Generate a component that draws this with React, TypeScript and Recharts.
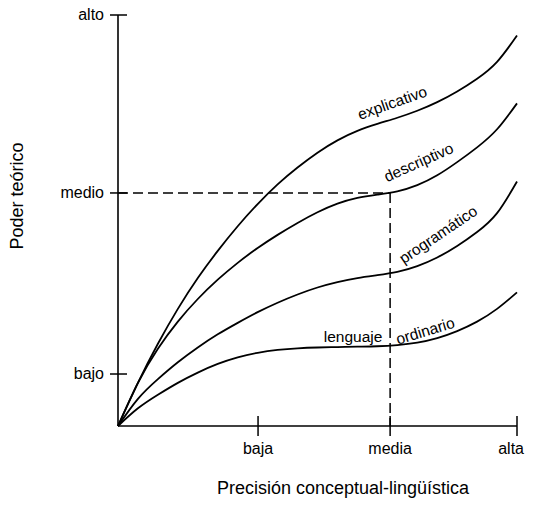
import React from 'react';
import { LineChart, Line, XAxis, YAxis, ReferenceLine, ReferenceDot, Label } from 'recharts';

// Posición en el eje de precisión (0 = origen, 100 = "alta")
const X_VALUES = [0, 5, 10, 15, 20, 25, 30, 35, 40, 45, 50, 55, 60, 65, 70, 75, 80, 85, 90, 95, 100];

// Poder teórico (0 = origen, 100 = "alto")
const EXPLICATIVO = [0, 10.5, 20, 28.5, 36, 42.6, 48.6, 54, 58.8, 62.9, 66.5, 69.5, 71.8, 73.5, 75, 76.7, 78.8, 81.4, 84.5, 88.6, 95];
const DESCRIPTIVO = [0, 10.5, 18.8, 25.4, 30.9, 35.6, 39.7, 43.3, 46.5, 49.4, 52, 54.1, 55.5, 56.3, 57.1, 58.6, 61, 64.2, 67.8, 72.2, 78.5];
const PROGRAMATICO = [0, 6.6, 11.4, 15.5, 19.1, 22.3, 25.1, 27.7, 30, 32, 33.7, 35, 36, 36.7, 37.5, 38.9, 41, 43.8, 47.2, 51.8, 59.5];
const LENGUAJE_ORDINARIO = [0, 4.3, 7.6, 10.5, 13, 15.1, 16.7, 17.8, 18.5, 18.9, 19.1, 19.2, 19.3, 19.4, 19.7, 20.3, 21.4, 23.1, 25.4, 28.5, 32.5];

const X_TICKS = [35.1, 68.2, 100];
const X_TICK_LABELS = ['baja', 'media', 'alta'];
const Y_TICKS = [12.65, 56.7, 100];
const Y_TICK_LABELS = ['bajo', 'medio', 'alto'];

const MEDIA = X_TICKS[1];
const MEDIO = Y_TICKS[1];

const CURVE_LABEL_TEXTS = ['explicativo', 'descriptivo', 'programático', 'lenguaje', 'ordinario'];
const CURVE_LABEL_X = [69.2, 75.9, 81, 58.9, 77.4];
const CURVE_LABEL_Y = [77.4, 63, 45.5, 20.4, 21.9];
const CURVE_LABEL_ANGLE = [-19.5, -24, -34, 0, -17];

const data = X_VALUES.map((x, i) => ({
  x,
  explicativo: EXPLICATIVO[i],
  descriptivo: DESCRIPTIVO[i],
  programatico: PROGRAMATICO[i],
  ordinario: LENGUAJE_ORDINARIO[i],
}));

const FONT = '"Liberation Sans", Arial, Helvetica, sans-serif';

const YTick = (props: any) => {
  const { x, y, payload } = props;
  const i = Y_TICKS.indexOf(payload.value);
  return (
    <g>
      <line x1={x - 8} x2={x + 9} y1={y} y2={y} stroke="#000" strokeWidth={1.5} />
      <text x={x - 14} y={y + 5} textAnchor="end" fontSize={16} fontFamily={FONT} fill="#000">
        {Y_TICK_LABELS[i]}
      </text>
    </g>
  );
};

const XTick = (props: any) => {
  const { x, y, payload } = props;
  const i = X_TICKS.indexOf(payload.value);
  // the last label sits against the right edge, so end-anchor it
  const last = i === X_TICKS.length - 1;
  return (
    <g>
      <line x1={x} x2={x} y1={y - 10} y2={y + 10} stroke="#000" strokeWidth={1.5} />
      <text
        x={last ? x + 7 : x}
        y={y + 28}
        textAnchor={last ? 'end' : 'middle'}
        fontSize={16}
        fontFamily={FONT}
        fill="#000"
      >
        {X_TICK_LABELS[i]}
      </text>
    </g>
  );
};

const curveLabel = (i: number) => (props: any) => {
  const { cx, cy } = props;
  return (
    <text
      x={cx}
      y={cy}
      textAnchor="middle"
      fontSize={15.5}
      fontFamily={FONT}
      fill="#000"
      transform={`rotate(${CURVE_LABEL_ANGLE[i]} ${cx} ${cy})`}
    >
      {CURVE_LABEL_TEXTS[i]}
    </text>
  );
};

export default function App() {
  return (
    <div style={{ width: 525, height: 496 }}>
      <style>{'html, body { overflow: hidden; } svg { display: block; overflow: visible; }'}</style>
      <LineChart
        width={525}
        height={496}
        data={data}
        margin={{ top: 7, right: 16, left: 0, bottom: 0 }}
      >
        <XAxis
          dataKey="x"
          type="number"
          domain={[0, 100]}
          ticks={X_TICKS}
          tick={<XTick />}
          tickLine={false}
          tickSize={0}
          tickMargin={0}
          height={78}
          axisLine={{ stroke: '#000', strokeWidth: 1.6 }}
          interval={0}
        >
          <Label
            content={(p: any) => {
              const vb = p.viewBox;
              return (
                <text
                  x={vb.x + vb.width / 2 + 25.5}
                  y={vb.y + 68}
                  textAnchor="middle"
                  fontSize={18}
                  fontFamily={FONT}
                  fill="#000"
                >
                  Precisión conceptual-lingüística
                </text>
              );
            }}
          />
        </XAxis>
        <YAxis
          type="number"
          domain={[0, 100]}
          ticks={Y_TICKS}
          tick={<YTick />}
          tickLine={false}
          tickSize={0}
          tickMargin={0}
          width={110}
          axisLine={{ stroke: '#000', strokeWidth: 1.6 }}
          interval={0}
        >
          <Label
            content={(p: any) => {
              const vb = p.viewBox;
              const cx = vb.x + 15;
              const cy = vb.y + 181;
              return (
                <text
                  x={cx}
                  y={cy}
                  textAnchor="middle"
                  fontSize={18}
                  fontFamily={FONT}
                  fill="#000"
                  transform={`rotate(-90 ${cx} ${cy})`}
                >
                  Poder teórico
                </text>
              );
            }}
          />
        </YAxis>
        <ReferenceLine
          segment={[{ x: 0, y: MEDIO }, { x: MEDIA, y: MEDIO }]}
          stroke="#000"
          strokeWidth={1.5}
          strokeDasharray="10 5"
        />
        <ReferenceLine
          segment={[{ x: MEDIA, y: MEDIO }, { x: MEDIA, y: 0 }]}
          stroke="#000"
          strokeWidth={1.5}
          strokeDasharray="10 5"
        />
        <Line type="natural" dataKey="explicativo" stroke="#000" strokeWidth={1.8} dot={false} isAnimationActive={false} />
        <Line type="natural" dataKey="descriptivo" stroke="#000" strokeWidth={1.8} dot={false} isAnimationActive={false} />
        <Line type="natural" dataKey="programatico" stroke="#000" strokeWidth={1.8} dot={false} isAnimationActive={false} />
        <Line type="natural" dataKey="ordinario" stroke="#000" strokeWidth={1.8} dot={false} isAnimationActive={false} />
        {CURVE_LABEL_TEXTS.map((t, i) => (
          <ReferenceDot key={t} x={CURVE_LABEL_X[i]} y={CURVE_LABEL_Y[i]} r={1} shape={curveLabel(i)} />
        ))}
      </LineChart>
    </div>
  );
}
